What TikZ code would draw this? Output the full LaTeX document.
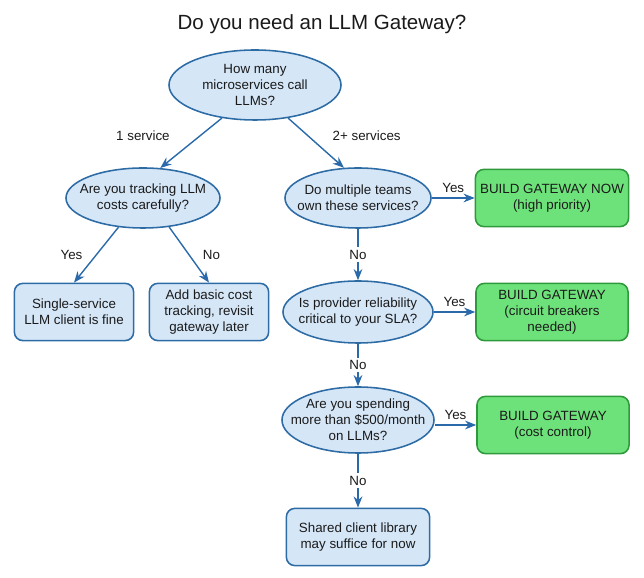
\documentclass[tikz,border=0pt]{standalone}
\usepackage{fontspec}
\setmainfont{Liberation Sans}
\usetikzlibrary{arrows.meta, positioning, shapes.geometric}

\definecolor{qfill}{HTML}{D5E6F7}
\definecolor{qline}{HTML}{2D6BA5}
\definecolor{gfill}{HTML}{6EE27A}
\definecolor{gline}{HTML}{2E9A3C}
\definecolor{arrowblue}{HTML}{2B6AAA}
\definecolor{ink}{HTML}{1A1A1A}

\begin{document}
\begin{tikzpicture}[
    x=0.025cm, y=0.025cm,
    question/.style={ellipse, draw=qline, fill=qfill, line width=1.1pt, align=center,
        font=\fontsize{9.5}{11.5}\selectfont, text=ink, inner xsep=-7pt, inner ysep=-2pt},
    result/.style={rectangle, rounded corners=6pt, draw=qline, fill=qfill, line width=1.1pt,
        align=center, font=\fontsize{9.5}{11.5}\selectfont, text=ink, minimum height=1.43cm},
    build/.style={result, draw=gline, fill=gfill, minimum width=3.8cm},
    arrow/.style={-{Stealth[length=2.8mm, width=2.2mm]}, draw=arrowblue, line width=1pt},
    choice/.style={font=\fontsize{9.5}{11.5}\selectfont, text=ink}
]
\useasboundingbox (0,0) rectangle (644,578);

% Title
\node[font=\fontsize{14.6}{17}\selectfont, text=ink] (title) at (322,554) {Do you need an LLM Gateway?};

% Questions
\node[question, minimum width=4.3cm, minimum height=1.75cm] (howmany) at (255,493)
    {How many\\microservices call\\LLMs?};
\node[question, minimum width=3.85cm, minimum height=1.5cm] (tracking) at (143,380)
    {Are you tracking LLM\\costs carefully?};
\node[question, minimum width=3.65cm, minimum height=1.5cm] (teams) at (358,380)
    {Do multiple teams\\own these services?};
\node[question, minimum width=3.75cm, minimum height=1.55cm] (reliab) at (358,266)
    {Is provider reliability\\critical to your SLA?};
\node[question, minimum width=3.8cm, minimum height=1.65cm, inner xsep=-11pt] (spend) at (358,158)
    {Are you spending\\more than \$500/month\\on LLMs?};

% Outcomes
\node[result, minimum width=2.98cm] (single) at (74,266) {Single-service\\LLM client is fine};
\node[result, minimum width=2.98cm] (addcost) at (209,266) {Add basic cost\\tracking, revisit\\gateway later};
\node[result, minimum width=3.58cm] (shared) at (358,41) {Shared client library\\may suffice for now};
\node[build] (gwnow) at (552,380) {BUILD GATEWAY NOW\\(high priority)};
\node[build] (gwcb) at (552,266) {BUILD GATEWAY\\(circuit breakers\\needed)};
\node[build] (gwcost) at (553,153) {BUILD GATEWAY\\(cost control)};

% Left branch
\draw[arrow] (howmany.225) -- (tracking.60) node[choice, pos=0.35, left=18pt] {1 service};
\draw[arrow] (tracking.230) -- (single.north) node[choice, midway, left=6pt] {Yes};
\draw[arrow] (tracking.312) -- (addcost.north) node[choice, midway, right=6pt] {No};

% Right branch
\draw[arrow] (howmany.315) -- (teams.115) node[choice, pos=0.35, right=14pt] {2+ services};
\draw[arrow] (teams.east) -- (gwnow.west) node[choice, midway, above=0pt] {Yes};
\draw[arrow] (teams.south) -- (reliab.north) node[choice, midway, fill=white, inner sep=2pt] {No};
\draw[arrow] (reliab.east) -- (gwcb.west) node[choice, midway, above=0pt] {Yes};
\draw[arrow] (reliab.south) -- (spend.north) node[choice, midway, fill=white, inner sep=2pt] {No};
\draw[arrow] (spend.east |- gwcost.west) -- (gwcost.west) node[choice, midway, above=0pt] {Yes};
\draw[arrow] (spend.south) -- (shared.north) node[choice, midway, fill=white, inner sep=2pt] {No};

\end{tikzpicture}
\end{document}
